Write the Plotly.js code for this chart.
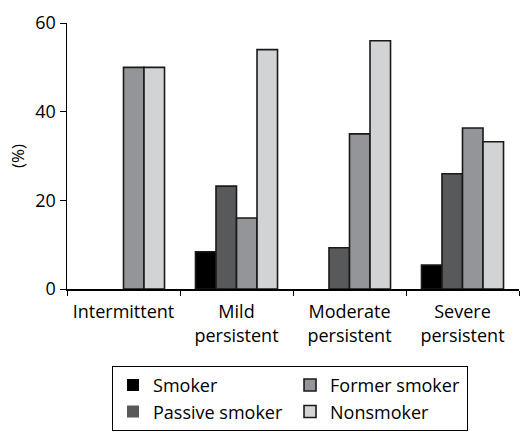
<!DOCTYPE html>
<html>
<head>
<meta charset="utf-8">
<script src="https://cdn.plot.ly/plotly-3.0.1.min.js"></script>
<style>html,body{margin:0;padding:0;background:#fff;}#chart{width:520px;height:438px;}</style>
</head>
<body>
<div id="chart"></div>
<script>
const categories = ["Intermittent", "Mild<br>persistent", "Moderate<br>persistent", "Severe<br>persistent"];
const seriesNames = ["Smoker", "Passive smoker", "Former smoker", "Nonsmoker"];
const smoker = [0, 8.4, 0, 5.4];
const passiveSmoker = [0, 23.2, 9.3, 26];
const formerSmoker = [50, 16, 35, 36.3];
const nonsmoker = [50, 54, 56, 33.2];
const yTicks = [0, 20, 40, 60];

const colors = ["#000000", "#58595b", "#939598", "#d1d3d4"];
const ranks = [1, 3, 2, 4];
const values = [smoker, passiveSmoker, formerSmoker, nonsmoker];
const FONT = "Open Sans, sans-serif";

const traces = values.map((v, i) => ({
  type: "bar",
  name: seriesNames[i],
  x: categories,
  y: v,
  legendrank: ranks[i],
  marker: {color: colors[i], line: {color: "#1a1a1a", width: v.map(d => d === 0 ? 0 : 1.6)}},
  hoverinfo: "skip"
}));

const layout = {
  width: 520, height: 438,
  margin: {l: 67, r: 1, t: 23, b: 149, autoexpand: false},
  paper_bgcolor: "#fff", plot_bgcolor: "#fff",
  font: {family: FONT, color: "#000", size: 18},
  barmode: "group",
  bargap: 0.274,
  bargroupgap: 0,
  showlegend: true,
  xaxis: {
    type: "category",
    range: [-0.5, 3.5],
    tickson: "boundaries",
    ticks: "outside", ticklen: 5, tickcolor: "#000", tickwidth: 1,
    showline: true, linecolor: "#000", linewidth: 1.5,
    showgrid: false, zeroline: false,
    automargin: false,
    ticklabelstandoff: 6,
    tickfont: {size: 18, family: FONT},
    fixedrange: true
  },
  yaxis: {
    range: [0, 60],
    tickvals: yTicks,
    ticktext: yTicks.map(String),
    ticks: "outside", ticklen: 6, tickcolor: "#000",
    showline: true, linecolor: "#000", linewidth: 1.5,
    showgrid: false, zeroline: false,
    automargin: false,
    tickfont: {size: 18, family: FONT},
    title: {text: "(%)", font: {size: 17, family: FONT}, standoff: 6},
    fixedrange: true
  },
  legend: {
    orientation: "h",
    x: 0.0996, xanchor: "left",
    y: -0.289, yanchor: "top",
    entrywidth: 132, entrywidthmode: "pixels",
    bordercolor: "#000", borderwidth: 1,
    bgcolor: "#fff",
    font: {size: 18, family: FONT, color: "#000"},
    traceorder: "normal"
  }
};

Plotly.newPlot("chart", traces, layout, {displayModeBar: false, staticPlot: true});
</script>
</body>
</html>
